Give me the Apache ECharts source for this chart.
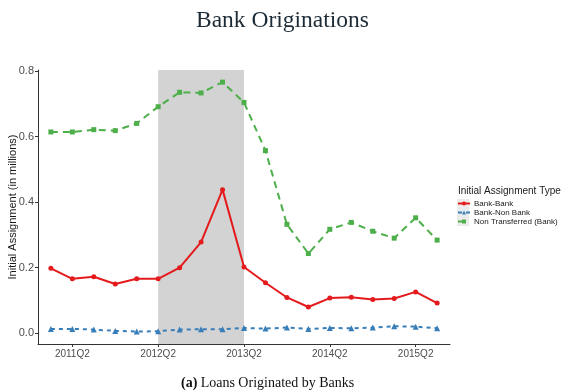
<!DOCTYPE html>
<html>
<head>
<meta charset="utf-8">
<style>
  html, body { margin: 0; padding: 0; background: #fff; }
  #chart { width: 565px; height: 392px; }
</style>
<script src="https://cdn.jsdelivr.net/npm/echarts@6/dist/echarts.min.js"></script>
</head>
<body>
<div id="chart"></div>
<script>
// Quarterly originations, 2011Q1 – 2015Q3
const quarters = [
  '2011Q1','2011Q2','2011Q3','2011Q4',
  '2012Q1','2012Q2','2012Q3','2012Q4',
  '2013Q1','2013Q2','2013Q3','2013Q4',
  '2014Q1','2014Q2','2014Q3','2014Q4',
  '2015Q1','2015Q2','2015Q3'
];
const tickLabels = ['2011Q2', '2012Q2', '2013Q2', '2014Q2', '2015Q2'];
const yTicks = [0.0, 0.2, 0.4, 0.6, 0.8];
const shadedSpan = ['2012Q2', '2013Q2'];

const bankBank = [0.198, 0.166, 0.172, 0.150, 0.166, 0.166, 0.200, 0.278, 0.438, 0.202,
                  0.154, 0.109, 0.080, 0.107, 0.110, 0.103, 0.106, 0.126, 0.092];
const bankNonBank = [0.013, 0.013, 0.011, 0.007, 0.005, 0.006, 0.011, 0.012, 0.012, 0.016,
                     0.014, 0.017, 0.013, 0.016, 0.015, 0.017, 0.021, 0.020, 0.015];
const nonTransferred = [0.614, 0.614, 0.621, 0.618, 0.640, 0.691, 0.735, 0.733, 0.766, 0.704,
                        0.557, 0.332, 0.243, 0.317, 0.338, 0.311, 0.290, 0.352, 0.284];

const seriesNames = ['Bank-Bank', 'Bank-Non Bank', 'Non Transferred (Bank)'];
const colors = ['#e41a1c', '#377eb8', '#4daf4a'];

const pairs = arr => arr.map((v, i) => [i, v]);
const tickIdx = tickLabels.map(q => quarters.indexOf(q));

const chart = echarts.init(document.getElementById('chart'), null, { renderer: 'canvas' });

const sans = 'Liberation Sans, Arial, sans-serif';
const serif = 'Liberation Serif, serif';
const axisText = { color: '#4d4d4d', fontFamily: sans };

// grey key backgrounds behind the legend symbols
const keyBoxes = [0, 1, 2].map(i => ({
  type: 'rect', left: 457, top: 199 + i * 9, z: 0,
  shape: { width: 12, height: 9 },
  style: { fill: '#ebebeb' }
}));

chart.setOption({
  animation: false,
  backgroundColor: '#ffffff',
  title: [{
    text: 'Bank Originations',
    left: 'center',
    top: 4,
    textStyle: { fontFamily: serif, fontWeight: 'normal', fontSize: 23.5, color: '#1c2b36' }
  }],
  grid: { left: 38, right: 115, top: 70, bottom: 48, containLabel: false, outerBoundsMode: 'none' },
  legend: {
    orient: 'vertical',
    left: 457,
    top: 199,
    padding: 0,
    itemWidth: 12,
    itemHeight: 5,
    itemGap: 0,
    z: 5,
    data: seriesNames,
    textStyle: { fontSize: 8, lineHeight: 9, color: '#1a1a1a', fontFamily: sans, padding: [0, 0, 0, -1] }
  },
  graphic: [
    ...keyBoxes,
    { type: 'text', left: 458, top: 186,
      style: { text: 'Initial Assignment Type', fontSize: 10, fill: '#1a1a1a', fontFamily: sans } },
    { type: 'text', left: 181, top: 376,
      style: { rich: {
        b: { fontWeight: 'bold', fontSize: 14, fontFamily: serif, fill: '#111' },
        n: { fontSize: 14, fontFamily: serif, fill: '#111' }
      }, text: '{b|(a)} {n|Loans Originated by Banks}' } }
  ],
  xAxis: {
    type: 'value',
    min: -0.6,
    max: quarters.length - 0.4,
    splitLine: { show: false },
    axisLine: { show: true, onZero: false, lineStyle: { color: '#333', width: 1 } },
    axisTick: { show: true, length: 3, customValues: tickIdx, lineStyle: { color: '#333' } },
    axisLabel: {
      customValues: tickIdx,
      formatter: v => quarters[Math.round(v)],
      fontSize: 10, margin: 5, ...axisText
    }
  },
  yAxis: {
    type: 'value',
    min: -0.033,
    max: 0.803,
    name: 'Initial Assignment (in millions)',
    nameLocation: 'middle',
    nameGap: 20,
    nameMoveOverlap: false,
    nameTextStyle: { fontSize: 11, color: '#1a1a1a', fontFamily: sans },
    splitLine: { show: false },
    axisLine: { show: true, onZero: false, lineStyle: { color: '#333', width: 1 } },
    axisTick: { show: true, length: 3, customValues: yTicks, lineStyle: { color: '#333' } },
    axisLabel: {
      customValues: yTicks,
      formatter: v => v.toFixed(1),
      fontSize: 11, margin: 4, ...axisText
    }
  },
  series: [
    {
      name: seriesNames[0], type: 'line', data: pairs(bankBank),
      color: colors[0], symbol: 'circle', symbolSize: 5, z: 4,
      lineStyle: { width: 2, type: 'solid' },
      markArea: {
        silent: true,
        itemStyle: { color: '#d3d3d3' },
        data: [[{ xAxis: quarters.indexOf(shadedSpan[0]) }, { xAxis: quarters.indexOf(shadedSpan[1]) }]]
      }
    },
    {
      name: seriesNames[1], type: 'line', data: pairs(bankNonBank),
      color: colors[1], symbol: 'triangle', symbolSize: 6, z: 3,
      lineStyle: { width: 2, type: [4, 4] }
    },
    {
      name: seriesNames[2], type: 'line', data: pairs(nonTransferred),
      color: colors[2], symbol: 'rect', symbolSize: 5, z: 3,
      lineStyle: { width: 2, type: [7, 5] }
    }
  ]
});
</script>
</body>
</html>
